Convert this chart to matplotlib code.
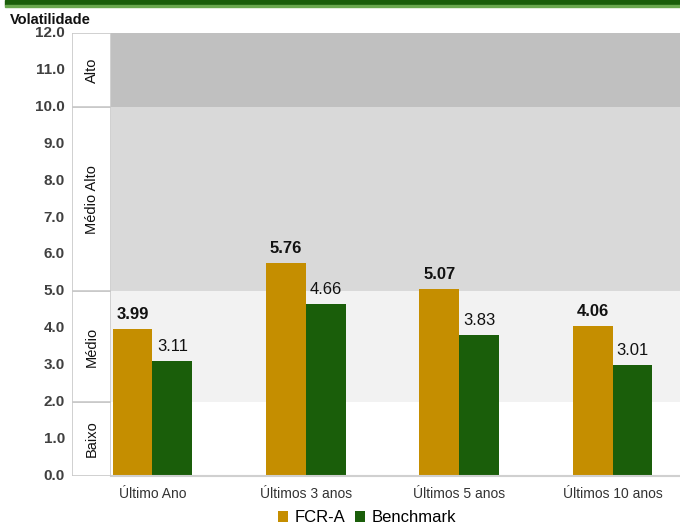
import matplotlib
matplotlib.use("Agg")
import matplotlib.pyplot as plt
from matplotlib.patches import Rectangle
import numpy as np

# data
categories = ["Último Ano", "Últimos 3 anos", "Últimos 5 anos", "Últimos 10 anos"]
fcr_a = [3.99, 5.76, 5.07, 4.06]
benchmark = [3.11, 4.66, 3.83, 3.01]
band_names = ["Baixo", "Médio", "Médio Alto", "Alto"]
band_edges = [0, 2, 5, 10, 12]
band_colors = ["#ffffff", "#f2f2f2", "#d9d9d9", "#c0c0c0"]
yticks = [0, 1, 2, 3, 4, 5, 6, 7, 8, 9, 10, 11, 12]

GOLD = "#c58e00"
GREEN = "#1a5e0a"
plt.rcParams["font.family"] = ["Liberation Sans", "DejaVu Sans"]

W, H = 680, 526
fig = plt.figure(figsize=(W / 100, H / 100), dpi=100)

# green title strip at the top (cut off)
fig.patches.append(Rectangle((5 / W, 1 - 5 / H), 1, 5 / H, transform=fig.transFigure,
                             color=GREEN, zorder=0))
fig.patches.append(Rectangle((5 / W, 1 - 7 / H), 1, 2 / H, transform=fig.transFigure,
                             color="#6aa84f", zorder=0))

y0, y1 = 476, 33
ax = fig.add_axes([111 / W, (H - y0) / H, (W - 111) / W, (y0 - y1) / H])
bax = fig.add_axes([72 / W, (H - y0) / H, 39 / W, (y0 - y1) / H])

# risk bands
for i in range(len(band_names)):
    ax.axhspan(band_edges[i], band_edges[i + 1], color=band_colors[i], lw=0, zorder=0)
    bax.add_patch(Rectangle((0, band_edges[i]), 1, band_edges[i + 1] - band_edges[i],
                            facecolor="white", edgecolor="#c8c8c8", lw=1.2))
    bax.text(0.5, (band_edges[i] + band_edges[i + 1]) / 2, band_names[i], rotation=90,
             ha="center", va="center", fontsize=10.5, color="#111111")
bax.set_xlim(0, 1)
bax.set_ylim(0, 12)
bax.axis("off")

x = np.arange(len(categories))
w = 0.26
b1 = ax.bar(x - w / 2, fcr_a, w, color=GOLD, zorder=2, label="FCR-A")
b2 = ax.bar(x + w / 2, benchmark, w, color=GREEN, zorder=2, label="Benchmark")
for rects, vals, weight in [(b1, fcr_a, "bold"), (b2, benchmark, "normal")]:
    for r, v in zip(rects, vals):
        ax.annotate(f"{v:.2f}", (r.get_x() + r.get_width() / 2, v), xytext=(0, 5),
                    textcoords="offset points", ha="center", va="bottom",
                    fontsize=12, fontweight=weight, color="#111111")

ax.set_xlim(-0.27, 3.44)
ax.set_ylim(0, 12)
ax.set_yticks(yticks)
ax.set_yticklabels([])
for t in yticks:
    fig.text(65 / W, (H - (y0 - t * (y0 - y1) / 12)) / H, f"{t:.1f}", ha="right",
             va="center", fontsize=11, fontweight="bold", color="#404040")
ax.tick_params(axis="both", length=0)
ax.set_xticks(x)
ax.set_xticklabels(categories, fontsize=10, color="#333333")
ax.tick_params(axis="x", pad=8)
for s in ["left", "right", "top"]:
    ax.spines[s].set_visible(False)
ax.spines["bottom"].set_color("#d0d0d0")
ax.spines["bottom"].set_linewidth(1.5)

fig.text(10 / W, 1 - 20 / H, "Volatilidade", ha="left", va="center",
         fontsize=10.5, fontweight="bold", color="#111111")

fig.legend(handles=[b1, b2], loc="center", bbox_to_anchor=(367 / W, 1 - 518 / H),
           ncol=2, frameon=False, fontsize=12, handlelength=0.6, handleheight=0.6,
           handletextpad=0.4, columnspacing=0.6, borderaxespad=0)

fig.savefig("out.png", dpi=100)
